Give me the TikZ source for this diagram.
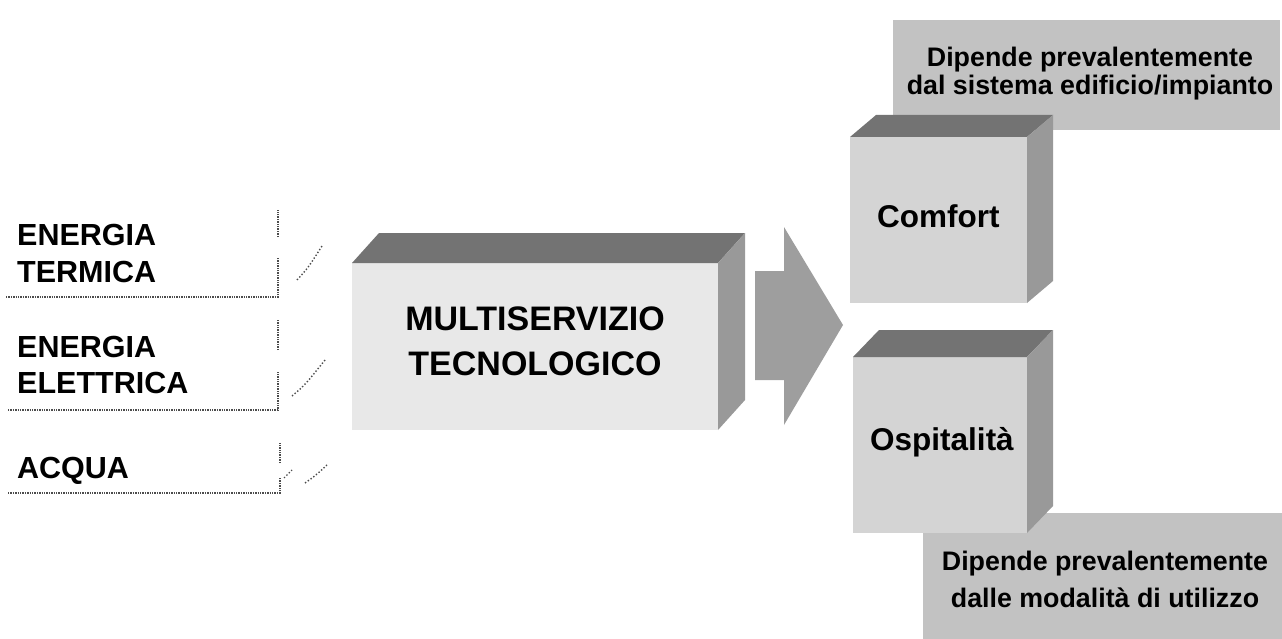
\documentclass[tikz,border=0pt]{standalone}
\usepackage{fontspec}
\setmainfont{Liberation Sans}
\begin{document}
\begin{tikzpicture}[x=1pt,y=-1pt,
  lbl/.style={font=\bfseries\fontsize{30.5}{36}\selectfont, inner sep=0, anchor=base west},
  box/.style={font=\bfseries\fontsize{31.5}{36}\selectfont, inner sep=0, anchor=base west},
  big/.style={font=\bfseries\fontsize{34}{40}\selectfont, inner sep=0, anchor=base},
  note/.style={font=\bfseries\fontsize{26.8}{30}\selectfont, inner sep=0, anchor=base},
  uline/.style={draw=black!70, densely dotted, line width=1.4pt},
  tick/.style={draw=black!70, dotted, line width=1.4pt},
  frontlight/.style={fill=black!9},
  front/.style={fill=black!17},
  topface/.style={fill=black!55},
  sideface/.style={fill=black!40},
  textbg/.style={fill=black!24},
  arrowfill/.style={fill=black!38}]
\useasboundingbox (0,0) rectangle (1282,639);

% ---- inputs ----
\node[lbl] (t1a) at (17,245) {ENERGIA};
\node[lbl] (t1b) at (17,282) {TERMICA};
\draw[uline] (6,297) -- (278,297) -- (278,258);
\draw[uline] (278,237) -- (278,210);
\draw[tick] (297,280) .. controls (308,268) .. (322,246);

\node[lbl] (t2a) at (17,357) {ENERGIA};
\node[lbl] (t2b) at (17,393) {ELETTRICA};
\draw[uline] (8,410) -- (278,410) -- (278,372);
\draw[uline] (278,350) -- (278,320);
\draw[tick] (292,396) .. controls (305,385) .. (325,360);

\node[lbl] (t3) at (17,478) {ACQUA};
\draw[uline] (8,493) -- (280,493) -- (280,478);
\draw[uline] (280,463) -- (280,443);
\draw[tick] (284,478) -- (292,470);
\draw[tick] (305,483) .. controls (315,476) .. (327,465);

% ---- central box ----
\path[frontlight] (352,263) rectangle (718,430);
\path[topface] (352,263) -- (379,233) -- (745,233) -- (718,263) -- cycle;
\path[sideface] (718,263) -- (745,233) -- (745,400) -- (718,430) -- cycle;
\node[big] (m1) at (535,330) {MULTISERVIZIO};
\node[big] (m2) at (535,375) {TECNOLOGICO};

% ---- block arrow ----
\path[arrowfill] (755,271) -- (784,271) -- (784,227) -- (843,325) -- (784,425) -- (784,380) -- (755,380) -- cycle;

% ---- upper note ----
\path[textbg] (893,20) rectangle (1280,130);
\node[note] (n1a) at (1090,67) {Dipende prevalentemente};
\node[note] (n1b) at (1090,95) {dal sistema edificio/impianto};

% ---- Comfort box ----
\path[front] (850,137) rectangle (1027,303);
\path[topface] (850,137) -- (876,115) -- (1053,115) -- (1027,137) -- cycle;
\path[sideface] (1027,137) -- (1053,115) -- (1053,281) -- (1027,303) -- cycle;
\node[box] (c) at (877,227) {Comfort};

% ---- lower note ----
\path[textbg] (923,513) rectangle (1282,639);

% ---- Ospitalita box ----
\path[front] (853,357) rectangle (1027,533);
\path[topface] (853,357) -- (879,330) -- (1053,330) -- (1027,357) -- cycle;
\path[sideface] (1027,357) -- (1053,330) -- (1053,506) -- (1027,533) -- cycle;
\node[box] (o) at (870,450) {Ospitalità};

\node[note] (n2a) at (1105,570) {Dipende prevalentemente};
\node[note] (n2b) at (1105,607) {dalle modalità di utilizzo};
\end{tikzpicture}
\end{document}
